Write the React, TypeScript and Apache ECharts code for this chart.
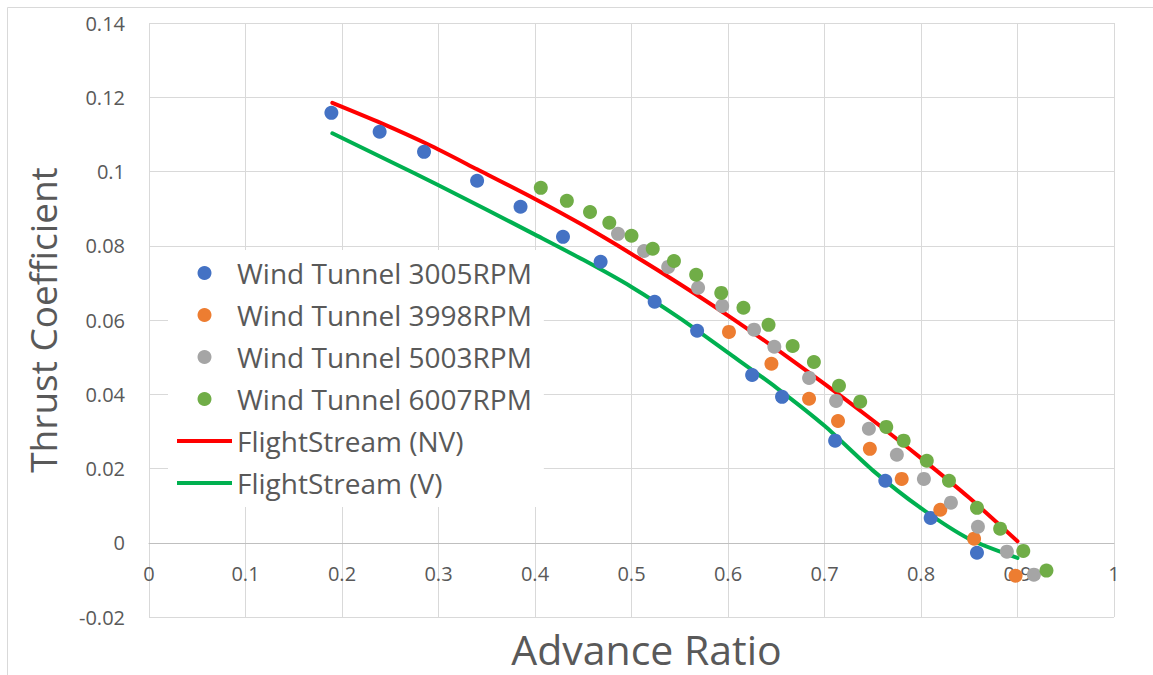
import { useEffect, useRef } from "react";
import * as echarts from "echarts";

const FONT = '"Open Sans", "Noto Sans", sans-serif';
const TEXT_COLOR = "#595959";
const GRID_COLOR = "#d9d9d9";

// Legend / series names
const seriesNames = [
  "Wind Tunnel 3005RPM",
  "Wind Tunnel 3998RPM",
  "Wind Tunnel 5003RPM",
  "Wind Tunnel 6007RPM",
  "FlightStream (NV)",
  "FlightStream (V)",
];

// Wind tunnel measurements: advance ratio J and thrust coefficient CT
const j3005 = [0.189, 0.239, 0.285, 0.340, 0.385, 0.429, 0.468, 0.524, 0.568, 0.625, 0.656, 0.711, 0.763, 0.810, 0.858];
const ct3005 = [0.1158, 0.1107, 0.1053, 0.0975, 0.0905, 0.0824, 0.0757, 0.0649, 0.0571, 0.0452, 0.0393, 0.0275, 0.0167, 0.0067, -0.0027];

const j3998 = [0.601, 0.645, 0.684, 0.714, 0.747, 0.780, 0.820, 0.855, 0.898];
const ct3998 = [0.0568, 0.0482, 0.0388, 0.0328, 0.0253, 0.0172, 0.0089, 0.0011, -0.0089];

const j5003 = [0.486, 0.513, 0.538, 0.569, 0.594, 0.627, 0.648, 0.684, 0.712, 0.746, 0.775, 0.803, 0.831, 0.859, 0.889, 0.917];
const ct5003 = [0.0832, 0.0786, 0.0743, 0.0687, 0.0638, 0.0574, 0.0528, 0.0444, 0.0382, 0.0307, 0.0237, 0.0172, 0.0108, 0.0043, -0.0024, -0.0086];

const j6007 = [0.406, 0.433, 0.457, 0.477, 0.500, 0.522, 0.544, 0.567, 0.593, 0.616, 0.642, 0.667, 0.689, 0.715, 0.737, 0.764, 0.782, 0.806, 0.829, 0.858, 0.882, 0.906, 0.930];
const ct6007 = [0.0956, 0.0921, 0.0891, 0.0862, 0.0827, 0.0792, 0.0759, 0.0722, 0.0673, 0.0633, 0.0587, 0.0530, 0.0487, 0.0423, 0.0380, 0.0312, 0.0275, 0.0221, 0.0167, 0.0094, 0.0038, -0.0022, -0.0075];

// FlightStream predictions (non-viscous and viscous)
const jNV = [0.19, 0.24, 0.29, 0.34, 0.40, 0.45, 0.50, 0.55, 0.60, 0.65, 0.70, 0.75, 0.80, 0.85, 0.90];
const ctNV = [0.1185, 0.1131, 0.1072, 0.1006, 0.0926, 0.0855, 0.0778, 0.0697, 0.0612, 0.0522, 0.0428, 0.0330, 0.0228, 0.0121, 0.0004];

const jV = [0.19, 0.25, 0.30, 0.35, 0.40, 0.45, 0.50, 0.55, 0.60, 0.65, 0.70, 0.75, 0.80, 0.85, 0.90];
const ctV = [0.1103, 0.1027, 0.0963, 0.0897, 0.0830, 0.0762, 0.0689, 0.0605, 0.0512, 0.0418, 0.0315, 0.0195, 0.0093, 0.0010, -0.0041];

// Axis ranges and ticks
const xMin = 0;
const xMax = 1;
const xStep = 0.1;
const yMin = -0.02;
const yMax = 0.14;
const yStep = 0.02;

const scatterColors = ["#4472C4", "#ED7D31", "#A5A5A5", "#70AD47"];
const lineColors = ["#FF0000", "#00B050"];

// Thin bar used as the legend key for the two line series
const LINE_KEY = "path://M0,0 L55,0 L55,4 L0,4 Z";

const zip = (xs: number[], ys: number[]) => xs.map((x, i) => [x, ys[i]]);

const fmt = (v: number) => String(Number(v.toFixed(2)));

export default function App() {
  const ref = useRef<HTMLDivElement>(null);

  useEffect(() => {
    if (!ref.current) return;
    const chart = echarts.init(ref.current, null, { renderer: "svg" });

    const scatterData = [zip(j3005, ct3005), zip(j3998, ct3998), zip(j5003, ct5003), zip(j6007, ct6007)];
    const lineData = [zip(jNV, ctNV), zip(jV, ctV)];

    const series: any[] = [
      ...scatterData.map((d, i) => ({
        name: seriesNames[i],
        type: "scatter",
        data: d,
        symbol: "circle",
        symbolSize: 14,
        itemStyle: { color: scatterColors[i], opacity: 1 },
        z: 3,
      })),
      ...lineData.map((d, i) => ({
        name: seriesNames[4 + i],
        type: "line",
        data: d,
        showSymbol: false,
        symbol: "none",
        smooth: 0.25,
        lineStyle: { color: lineColors[i], width: 4, cap: "round", join: "round" },
        itemStyle: { color: lineColors[i] },
        z: 2,
      })),
    ];

    const legendData = seriesNames.map((name, i) =>
      i < 4
        ? { name, icon: "circle" }
        : { name, icon: LINE_KEY, itemStyle: { color: lineColors[i - 4] } }
    );

    chart.setOption({
      animation: false,
      backgroundColor: "#ffffff",
      textStyle: { fontFamily: FONT },
      grid: {
        left: 149,
        right: 39,
        top: 23,
        bottom: 58,
        containLabel: false,
        outerBoundsMode: "none",
      },
      graphic: [
        {
          type: "rect",
          silent: true,
          z: -10,
          shape: { x: 7.5, y: 7.5, width: 1170, height: 700 },
          style: { fill: "none", stroke: GRID_COLOR, lineWidth: 1 },
        },
      ],
      xAxis: {
        type: "value",
        min: xMin,
        max: xMax,
        interval: xStep,
        name: "Advance Ratio",
        nameLocation: "middle",
        nameGap: 11,
        nameTextStyle: { fontSize: 41, color: TEXT_COLOR, fontFamily: FONT, padding: [0, 0, 0, 30] },
        axisLine: { show: true, onZero: true, lineStyle: { color: "#bfbfbf", width: 1 } },
        axisTick: { show: false },
        axisLabel: { fontSize: 20, color: TEXT_COLOR, fontFamily: FONT, margin: -54, formatter: fmt },
        splitLine: { show: true, lineStyle: { color: GRID_COLOR, width: 1 } },
      },
      yAxis: {
        type: "value",
        min: yMin,
        max: yMax,
        interval: yStep,
        name: "Thrust Coefficient",
        nameLocation: "middle",
        nameGap: 88,
        nameTextStyle: { fontSize: 37, color: TEXT_COLOR, fontFamily: FONT },
        axisLine: { show: false },
        axisTick: { show: false },
        axisLabel: { fontSize: 20, color: TEXT_COLOR, fontFamily: FONT, margin: 24, formatter: fmt },
        splitLine: { show: true, lineStyle: { color: GRID_COLOR, width: 1 } },
      },
      legend: {
        orient: "vertical",
        left: 168,
        top: 250,
        data: legendData,
        backgroundColor: "#ffffff",
        padding: [8, 12, 9, 9],
        itemWidth: 55,
        itemHeight: 14,
        itemGap: 12,
        symbolKeepAspect: true,
        selectedMode: false,
        textStyle: { fontSize: 28, lineHeight: 30, color: TEXT_COLOR, fontFamily: FONT },
      },
      series,
    });

    return () => chart.dispose();
  }, []);

  return (
    <div style={{ position: "fixed", left: 0, top: 0, width: 1153, height: 675, background: "#fff" }}>
      <div ref={ref} style={{ width: 1153, height: 675 }} />
    </div>
  );
}
